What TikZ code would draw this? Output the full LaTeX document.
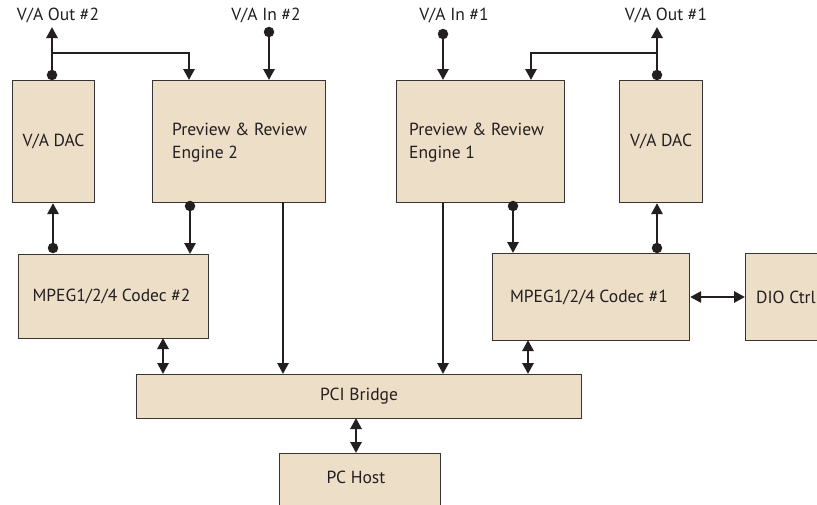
\documentclass[tikz,border=0pt]{standalone}
\usepackage{fontspec}
\setmainfont{PT Sans}
\usetikzlibrary{arrows.meta}
\definecolor{boxfill}{RGB}{237,222,200}
\definecolor{boxline}{RGB}{55,52,53}
\definecolor{ink}{RGB}{35,31,32}
\tikzset{
  box/.style={draw=boxline, fill=boxfill, line width=1.1pt, inner sep=0pt, anchor=north west},
  lbl/.style={text=ink, inner sep=0pt, font=\fontsize{17.5}{23.5}\selectfont},
  conn/.style={draw=ink, line width=2.9pt},
  tip/.style={-{Triangle[length=11pt,width=11pt]}},
  bitip/.style={{Triangle[length=11pt,width=11pt]}-{Triangle[length=11pt,width=11pt]}},
  dot/.style={circle, fill=ink, inner sep=0pt, minimum size=10.5pt},
}
\begin{document}
\begin{tikzpicture}[x=1pt,y=-1pt]
\clip (0,0) rectangle (817,504);
\fill[white] (0,0) rectangle (817,504);
% boxes
\node[box, minimum width=82pt, minimum height=122pt] (dac2) at (12,80) {};
\node[box, minimum width=173pt, minimum height=122pt] (eng2) at (152,80) {};
\node[box, minimum width=168pt, minimum height=122pt] (eng1) at (396,80) {};
\node[box, minimum width=83pt, minimum height=122pt] (dac1) at (619,80) {};
\node[box, minimum width=190pt, minimum height=84pt] (cod2) at (18,254) {};
\node[box, minimum width=197pt, minimum height=87pt] (cod1) at (492,253) {};
\node[box, minimum width=90pt, minimum height=87pt] (dio) at (745,253) {};
\node[box, minimum width=445pt, minimum height=44pt] (pci) at (136,374) {};
\node[box, minimum width=161pt, minimum height=70pt] (host) at (279,453) {};
% box texts
\node[lbl] (tdac2) at (dac2.center) {V/A DAC};
\node[lbl] (tdac1) at (dac1.center) {V/A DAC};
\node[lbl, anchor=west, align=left] (teng2) at ([xshift=20pt,yshift=-1pt]eng2.west) {Preview \& Review\\Engine 2};
\node[lbl, anchor=west, align=left] (teng1) at ([xshift=13pt,yshift=-1pt]eng1.west) {Preview \& Review\\Engine 1};
\node[lbl] (tcod2) at ([xshift=-2pt]cod2.center) {MPEG1/2/4 Codec \#2};
\node[lbl] (tcod1) at ([xshift=-2pt]cod1.center) {MPEG1/2/4 Codec \#1};
\node[lbl, anchor=west] (tdio) at ([xshift=11pt]dio.west) {DIO Ctrl};
\node[lbl] (tpci) at (pci.center) {PCI Bridge};
\node[lbl] (thost) at (356,477) {PC Host};
% top labels
\node[lbl] (out2) at (58,15) {V/A Out \#2};
\node[lbl] (in2) at (266,15) {V/A In \#2};
\node[lbl] (in1) at (454,15) {V/A In \#1};
\node[lbl] (out1) at (666,15) {V/A Out \#1};
% coordinates
\coordinate (o2top) at (52,27);
\coordinate (o2j) at (52,53);
\coordinate (o2k) at (189,53);
\coordinate (o1top) at (657,27);
\coordinate (o1j) at (657,53);
\coordinate (o1k) at (531,53);
% dots
\node[dot] (d1) at (52,75) {};
\node[dot] (d2) at (269,32) {};
\node[dot] (d3) at (190,206) {};
\node[dot] (d4) at (53,248) {};
\node[dot] (d5) at (443,34) {};
\node[dot] (d6) at (657,75) {};
\node[dot] (d7) at (513,206) {};
\node[dot] (d8) at (657,248) {};
% connectors
\draw[conn, tip] (d1.center) -- (o2top);
\draw[conn, tip] (o2j) -- (o2k) -- (o2k |- eng2.north);
\draw[conn, tip] (d2.center) -- (d2 |- eng2.north);
\draw[conn, tip] (d3.center) -- (d3 |- cod2.north);
\draw[conn, tip] (d4.center) -- (d4 |- dac2.south);
\draw[conn, tip] (283,202) coordinate (e2b) -- (e2b |- pci.north);
\draw[conn, bitip] (163,338) coordinate (c2b) -- (c2b |- pci.north);
\draw[conn, tip] (d5.center) -- (d5 |- eng1.north);
\draw[conn, tip] (d6.center) -- (o1top);
\draw[conn, tip] (o1j) -- (o1k) -- (o1k |- eng1.north);
\draw[conn, tip] (d7.center) -- (d7 |- cod1.north);
\draw[conn, tip] (d8.center) -- (d8 |- dac1.south);
\draw[conn, tip] (d5 |- eng1.south) -- (d5 |- pci.north);
\draw[conn, bitip] (528,340) coordinate (c1b) -- (c1b |- pci.north);
\draw[conn, bitip] (cod1.east |- 0,297) -- (dio.west |- 0,297);
\draw[conn, bitip] (356,418) coordinate (pb) -- (pb |- host.north);
\end{tikzpicture}
\end{document}
